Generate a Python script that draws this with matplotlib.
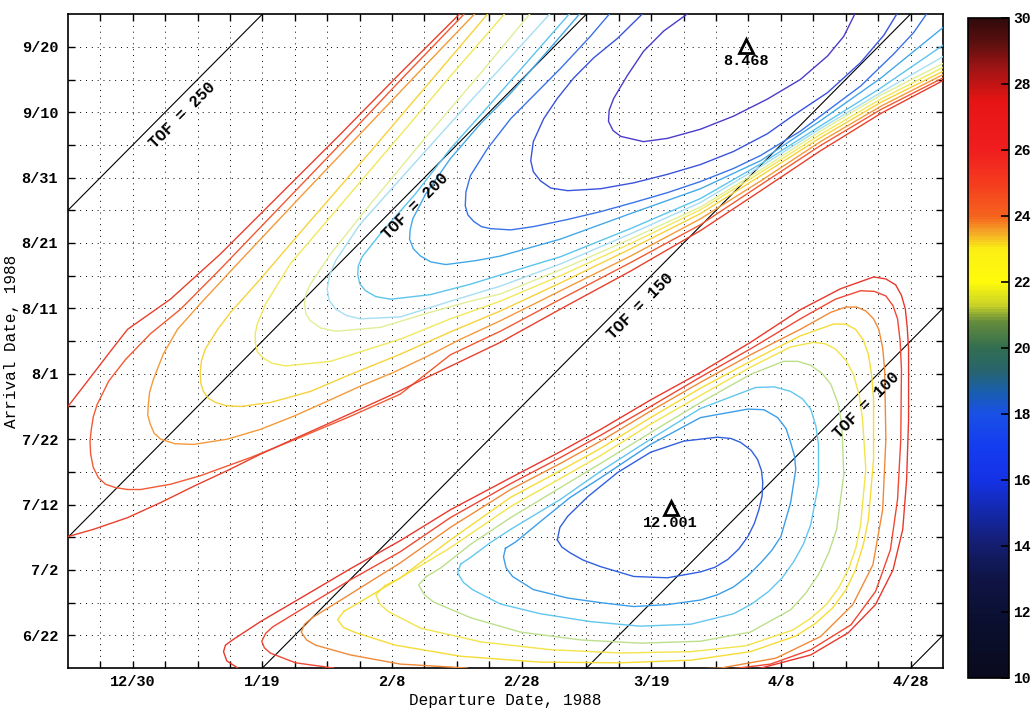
import numpy as np
import matplotlib.pyplot as plt
from matplotlib.colors import LinearSegmentedColormap, Normalize
from matplotlib.cm import ScalarMappable

# axis origins: departure days after 12/20/1987, arrival days after 6/17/1988
dep0 = np.datetime64('1987-12-20')
arr0 = np.datetime64('1988-06-17')
dep_span = 135
arr_span = 100

dep_tick_dates = np.array(['1987-12-30', '1988-01-19', '1988-02-08', '1988-02-28',
                           '1988-03-19', '1988-04-08', '1988-04-28'], dtype='datetime64[D]')
dep_tick_labels = ['12/30', '1/19', '2/8', '2/28', '3/19', '4/8', '4/28']
arr_tick_dates = np.array(['1988-06-22', '1988-07-02', '1988-07-12', '1988-07-22', '1988-08-01',
                           '1988-08-11', '1988-08-21', '1988-08-31', '1988-09-10', '1988-09-20'],
                          dtype='datetime64[D]')
arr_tick_labels = ['6/22', '7/2', '7/12', '7/22', '8/1', '8/11', '8/21', '8/31', '9/10', '9/20']

tof_values = [50, 100, 150, 200, 250]
tof_labelled = [100, 150, 200, 250]
tof_label_dep = [121.7, 86.8, 52.1, 16.1]

min_dep = [104.6, 93.0]
min_arr = [95.1, 24.5]
min_text = ['8.468', '12.001']

# contour traces (departure day, arrival day) - upper (type II) lobe, inner to outer
u1 = [(95.8, 100.2), (91.9, 97.4), (88.8, 94.3), (86.3, 90.6), (84.2, 87.1), (83.5, 85.3),
      (83.4, 83.6), (84.1, 82.2), (85.3, 81.3), (88.8, 80.5), (92.5, 81.0), (97.6, 82.4),
      (102.7, 84.4), (107.9, 87.0), (113.0, 90.0), (117.2, 93.6), (119.7, 96.6), (121.5, 100.2)]
u2 = [(88.8, 100.2), (84.8, 96.3), (81.1, 93.3), (78.0, 90.2), (75.5, 87.1), (73.4, 84.0),
      (71.8, 80.5), (71.4, 77.6), (71.8, 75.9), (72.9, 74.5), (74.5, 73.4), (77.1, 73.0),
      (82.2, 73.3), (87.3, 74.2), (92.5, 75.5), (97.6, 77.0), (102.7, 79.0), (107.9, 81.7),
      (111.9, 84.5), (117.2, 88.0), (122.3, 92.6), (125.9, 96.8), (128.0, 100.2)]
u3 = [(83.7, 100.2), (80.6, 96.6), (76.0, 91.7), (71.4, 87.1), (68.3, 84.0), (64.7, 79.4),
      (62.1, 75.3), (61.4, 72.8), (61.3, 70.7), (61.7, 69.3), (62.6, 68.3), (63.8, 67.5),
      (65.2, 67.2), (68.3, 67.0), (71.8, 67.5), (77.1, 68.6), (82.2, 69.8), (87.3, 71.2),
      (92.5, 72.7), (97.6, 74.4), (102.7, 76.4), (106.9, 78.4), (113.0, 82.1), (117.7, 85.6),
      (122.3, 89.0), (127.4, 93.9), (130.5, 97.2), (132.6, 100.2)]
u4 = [(79.1, 100.2), (73.7, 94.0), (68.3, 87.9), (63.7, 83.3), (59.0, 77.9), (55.2, 72.5),
      (53.2, 68.7), (52.8, 67.0), (52.7, 65.6), (53.3, 64.1), (54.4, 63.0), (56.0, 62.1),
      (58.3, 61.7), (62.9, 62.3), (66.7, 63.0), (76.0, 65.6), (86.8, 69.5), (97.6, 73.3),
      (106.9, 77.6), (116.1, 83.7), (125.4, 90.2), (135.7, 98.5)]
u5 = [(77.5, 100.2), (71.4, 93.3), (65.2, 86.3), (59.0, 79.4), (53.6, 72.5), (48.2, 66.4),
      (45.4, 62.9), (44.8, 61.5), (44.7, 60.3), (45.0, 58.8), (45.9, 57.7), (47.5, 56.8),
      (49.8, 56.4), (55.9, 57.1), (62.1, 58.7), (66.7, 60.1), (76.0, 62.9), (86.8, 67.2),
      (97.6, 71.8), (106.9, 77.1), (116.1, 82.9), (125.4, 88.7), (135.7, 95.7)]
u6 = [(74.5, 100.2), (66.7, 91.7), (59.0, 83.3), (51.3, 74.8), (45.1, 67.9), (41.3, 62.3),
      (40.4, 60.2), (40.0, 58.0), (40.3, 56.2), (41.3, 54.9), (43.0, 53.9), (45.1, 53.4),
      (51.3, 53.7), (59.0, 56.1), (66.7, 58.4), (76.0, 61.8), (86.8, 66.4), (97.6, 71.2),
      (106.9, 76.7), (116.1, 82.5), (125.4, 88.0), (135.7, 93.9)]
u7 = [(71.4, 100.2), (63.7, 91.0), (54.4, 80.2), (46.7, 71.0), (40.5, 63.3), (37.4, 58.7),
      (36.7, 57.2), (36.5, 55.7), (36.7, 54.2), (37.4, 53.1), (39.0, 52.0), (41.3, 51.5),
      (48.2, 52.1), (55.9, 54.4), (62.1, 56.1), (66.7, 57.2), (76.0, 60.9), (86.8, 65.6),
      (97.6, 70.5), (106.9, 76.2), (116.1, 82.1), (125.4, 87.6), (135.7, 92.8)]
u8 = [(67.5, 100.2), (59.0, 90.5), (49.8, 79.8), (40.5, 69.0), (34.3, 61.8), (30.5, 55.7),
      (29.2, 52.6), (28.9, 51.2), (28.9, 49.8), (29.2, 48.4), (30.0, 47.5), (31.5, 46.6),
      (33.6, 46.2), (40.5, 46.9), (51.3, 50.3), (59.0, 53.4), (66.7, 56.1), (76.0, 60.0),
      (86.8, 64.9), (97.6, 70.1), (106.9, 75.8), (116.1, 81.6), (125.4, 87.0), (135.7, 92.2)]
u9 = [(64.9, 100.2), (55.9, 89.7), (46.7, 79.0), (37.4, 68.4), (29.7, 59.5), (25.1, 54.4),
      (23.1, 51.8), (21.2, 48.8), (20.6, 47.0), (20.4, 45.2), (20.5, 43.5), (20.9, 42.3),
      (21.6, 41.3), (22.8, 40.6), (24.5, 40.1), (26.6, 40.0), (31.2, 40.6), (37.4, 42.3),
      (43.6, 44.9), (51.3, 48.0), (59.0, 51.4), (66.7, 54.6), (76.0, 58.9), (86.8, 64.1),
      (97.6, 69.5), (106.9, 75.3), (116.1, 81.1), (125.4, 86.5), (135.7, 91.6)]
u10 = [(62.9, 100.2), (54.4, 91.4), (45.1, 81.7), (35.9, 72.1), (26.6, 62.3), (20.4, 55.7),
       (16.9, 51.8), (14.7, 48.0), (13.2, 44.2), (12.6, 42.2), (12.4, 40.3), (12.3, 38.7),
       (12.7, 37.3), (13.3, 35.9), (14.3, 35.0), (16.5, 34.3), (19.4, 34.2), (24.6, 35.0),
       (29.7, 36.5), (34.8, 38.5), (40.0, 40.8), (45.1, 43.1), (50.2, 45.2), (55.5, 47.7),
       (60.6, 50.3), (66.7, 53.1), (76.0, 57.7), (86.8, 63.0), (97.6, 68.7), (106.9, 74.5),
       (116.1, 80.5), (125.4, 85.9), (135.7, 91.1)]
u11 = [(61.3, 100.2), (51.3, 89.9), (42.1, 80.2), (32.8, 70.6), (23.5, 61.0), (17.4, 54.9),
       (12.7, 51.1), (8.9, 47.2), (6.3, 43.9), (4.5, 40.3), (3.9, 38.4), (3.6, 36.5),
       (3.4, 34.6), (3.5, 32.7), (3.9, 30.7), (4.7, 29.1), (5.8, 28.1), (7.3, 27.6),
       (9.2, 27.3), (11.2, 27.3), (15.8, 28.1), (20.4, 29.4), (28.2, 32.2), (35.9, 35.3),
       (43.6, 38.5), (51.3, 41.9), (59.0, 47.9), (66.7, 51.5), (76.0, 56.4), (86.8, 62.0),
       (97.6, 67.8), (106.9, 73.9), (116.1, 79.9), (125.4, 85.4), (135.7, 90.6)]
u12 = [(60.6, 100.2), (51.3, 91.0), (42.1, 81.7), (32.8, 72.5), (23.5, 63.3), (15.8, 56.4),
       (9.2, 51.8), (6.6, 48.5), (3.5, 44.5), (0.0, 40.0), (-4.2, 30.4), (0.0, 20.1),
       (3.9, 21.2), (9.2, 23.0), (14.3, 25.3), (19.4, 27.8), (24.6, 30.2), (29.7, 32.7),
       (34.8, 35.0), (40.0, 37.3), (45.1, 39.6), (50.2, 41.9), (55.5, 44.5), (60.6, 46.9),
       (66.7, 49.8), (76.0, 54.9), (86.8, 60.7), (97.6, 66.9), (106.9, 73.0), (116.1, 79.1),
       (125.4, 84.8), (135.7, 90.2)]

# lower (type I) lobe, inner to outer
l1 = [(75.5, 19.6), (75.9, 21.5), (77.1, 23.2), (80.2, 26.2), (84.8, 29.9), (89.9, 33.0),
      (95.0, 34.7), (100.2, 35.3), (102.3, 35.1), (103.8, 34.5), (105.4, 33.3), (106.4, 31.9),
      (107.0, 30.2), (107.2, 28.4), (107.1, 26.3), (106.6, 24.2), (105.9, 22.1), (104.9, 20.1),
      (103.5, 18.2), (101.8, 16.6), (99.8, 15.4), (97.6, 14.7), (92.5, 13.8), (87.3, 14.0),
      (82.2, 15.5), (79.5, 16.5), (77.5, 17.6), (76.2, 18.5), (75.5, 19.6)]
l2 = [(67.5, 18.3), (69.1, 19.3), (72.9, 22.4), (77.5, 26.1), (82.2, 29.1), (89.9, 34.2),
      (97.6, 38.3), (104.9, 39.6), (107.4, 39.5), (109.5, 38.3), (110.8, 36.6), (111.5, 34.5),
      (112.1, 32.4), (112.3, 30.4), (111.5, 25.3), (110.0, 20.1), (108.6, 18.0), (106.9, 16.1),
      (104.9, 14.1), (102.7, 12.4), (100.2, 11.2), (97.6, 10.4), (92.5, 9.7), (87.3, 9.4),
      (82.2, 10.0), (77.1, 10.7), (71.8, 12.0), (68.6, 14.0), (67.6, 15.3), (67.2, 17.0),
      (67.5, 18.3)]
l3 = [(60.6, 15.9), (62.1, 16.9), (65.2, 19.2), (68.3, 21.2), (76.0, 25.8), (82.2, 30.1),
      (89.9, 35.0), (97.6, 39.7), (106.1, 42.9), (109.0, 43.0), (111.5, 42.3), (113.3, 41.2),
      (114.6, 39.6), (115.4, 37.0), (115.8, 34.2), (115.8, 28.1), (114.6, 21.9), (113.5, 19.0),
      (112.0, 16.3), (110.2, 13.8), (108.1, 11.7), (105.5, 9.8), (102.7, 8.3), (96.1, 6.7),
      (88.3, 6.4), (80.6, 7.1), (72.9, 8.3), (66.7, 9.8), (62.4, 12.0), (61.0, 13.1),
      (60.1, 14.6), (60.6, 15.9)]
l4 = [(55.3, 14.0), (57.5, 15.3), (62.1, 18.9), (68.3, 23.0), (76.0, 27.6), (82.2, 31.3),
      (89.9, 36.0), (97.6, 40.6), (105.3, 44.9), (110.4, 46.9), (112.6, 46.9), (114.6, 46.3),
      (116.4, 45.0), (117.7, 43.4), (118.8, 40.5), (119.4, 37.3), (119.7, 29.6), (118.6, 21.2),
      (117.4, 17.7), (115.8, 14.3), (113.8, 11.4), (111.5, 8.9), (105.3, 5.5), (97.6, 4.1),
      (88.3, 3.8), (79.1, 4.3), (69.8, 5.5), (62.1, 7.7), (56.4, 10.1), (55.0, 11.2),
      (54.1, 12.7), (55.3, 14.0)]
l5 = [(48.9, 12.6), (51.3, 13.8), (59.0, 18.4), (68.3, 24.7), (76.0, 29.0), (82.2, 32.5),
      (89.9, 37.3), (97.6, 41.7), (105.3, 46.0), (111.5, 49.1), (115.0, 49.8), (116.8, 49.6),
      (118.4, 48.8), (120.0, 47.1), (121.2, 44.9), (122.1, 41.6), (122.6, 38.0), (123.1, 30.4),
      (122.3, 21.9), (121.6, 18.5), (120.5, 15.3), (119.0, 12.4), (117.1, 9.8), (114.6, 7.6),
      (111.8, 5.8), (104.6, 3.4), (96.1, 2.5), (85.3, 2.3), (74.5, 2.8), (63.7, 4.0),
      (54.4, 6.1), (49.5, 8.6), (48.2, 9.7), (47.5, 11.2), (48.9, 12.6)]
l6 = [(42.6, 8.7), (44.4, 9.7), (51.3, 13.8), (59.0, 19.6), (68.3, 26.1), (76.0, 30.2),
      (82.2, 33.6), (89.9, 38.3), (97.6, 42.8), (105.3, 46.9), (113.0, 50.8), (118.1, 52.6),
      (120.0, 52.6), (121.5, 51.8), (122.7, 50.2), (123.5, 48.0), (124.0, 44.8), (124.3, 41.1),
      (124.3, 31.9), (123.5, 22.7), (122.7, 18.8), (121.5, 15.0), (120.0, 11.9), (118.0, 9.2),
      (115.3, 6.8), (112.3, 4.9), (105.3, 2.5), (96.1, 1.2), (85.3, 0.8), (72.9, 0.9),
      (60.6, 1.8), (50.5, 3.5), (44.4, 5.4), (42.5, 6.2), (41.6, 7.4), (42.6, 8.7)]
l7 = [(61.6, 0.0), (51.3, 0.6), (43.6, 2.0), (38.2, 3.5), (36.8, 4.3), (36.0, 5.5), (36.5, 6.7),
      (37.7, 7.7), (42.1, 10.4), (51.3, 16.1), (59.0, 21.5), (68.3, 27.3), (76.0, 31.3),
      (82.2, 34.7), (89.9, 39.3), (97.6, 43.7), (105.3, 47.9), (113.0, 51.8), (117.7, 54.4),
      (120.0, 55.2), (121.7, 55.2), (123.1, 54.6), (124.3, 53.4), (125.1, 51.8), (125.7, 49.0),
      (126.0, 45.7), (126.2, 35.0), (125.7, 24.2), (124.2, 15.8), (121.1, 9.7), (116.1, 4.8),
      (109.2, 1.5), (100.7, 0.0), (93.4, -0.3)]
l8 = [(41.0, 0.0), (35.1, 0.8), (31.2, 2.3), (30.3, 3.1), (29.9, 4.1), (30.5, 5.3), (31.6, 6.3),
      (35.9, 8.9), (43.6, 13.5), (51.3, 17.8), (59.0, 23.0), (68.3, 28.2), (76.0, 32.2),
      (82.2, 35.6), (89.9, 40.0), (97.6, 44.5), (105.3, 48.8), (113.0, 53.4), (118.4, 56.4),
      (122.3, 57.7), (124.4, 57.6), (126.2, 56.9), (127.3, 55.4), (128.0, 53.4), (128.4, 50.0),
      (128.6, 45.7), (128.5, 35.0), (128.0, 25.8), (126.9, 18.1), (124.6, 11.7), (120.8, 6.6),
      (114.6, 2.8), (108.4, 0.6), (101.0, -0.3)]
l9 = [(26.2, 0.0), (24.5, 1.1), (24.0, 2.5), (24.3, 3.5), (25.4, 4.3), (29.7, 7.1), (35.9, 10.7),
      (43.6, 15.2), (51.3, 19.5), (59.0, 24.2), (68.3, 29.1), (76.0, 33.1), (82.2, 36.5),
      (89.9, 41.0), (97.6, 45.2), (105.3, 49.8), (113.0, 54.8), (119.2, 58.0), (124.3, 59.8),
      (126.2, 59.5), (127.7, 58.6), (128.6, 57.0), (129.2, 54.9), (129.5, 52.0), (129.7, 48.8),
      (129.7, 38.0), (129.4, 28.8), (128.8, 21.2), (127.3, 15.0), (124.6, 9.7), (120.4, 5.4),
      (114.6, 2.0), (105.8, -0.3)]

upper_traces = [u1, u2, u3, u4, u5, u6, u7, u8, u9, u10, u11, u12]
upper_colors = ['#4a3cc8', '#3a52dc', '#3a72e8', '#44a8e8', '#5cc4ee', '#a6def2',
                '#e2ee96', '#f2e85a', '#f7d23a', '#f49a3a', '#f25a34', '#e8402c']
lower_traces = [l1, l2, l3, l4, l5, l6, l7, l8, l9]
lower_colors = ['#3060e0', '#3c9ee8', '#62c6ee', '#bcdf8c', '#f2e44a', '#f6dc34',
                '#f08a38', '#f04834', '#e8382c']

# colour bar scale (C3 value, colour)
cbar_stops = [(10, '#0a0a1e'), (11.5, '#0a0f2d'), (13, '#0f1446'), (14, '#141e6e'),
              (15, '#1428aa'), (16, '#1432e6'), (17, '#143cf0'), (18, '#1950e6'),
              (18.7, '#195faa'), (19.3, '#28646e'), (20, '#326e50'), (20.8, '#648c3c'),
              (21.3, '#c8d228'), (22, '#fffa0a'), (23, '#faf014'), (23.5, '#f5aa28'),
              (24, '#f5641e'), (25, '#f53c1e'), (26, '#f01e1e'), (27.5, '#e61414'),
              (28.5, '#a01414'), (29.3, '#5a0f0f'), (30, '#320a0a')]
cbar_ticks = [10, 12, 14, 16, 18, 20, 22, 24, 26, 28, 30]

mono = 'Liberation Mono'

fig = plt.figure(figsize=(10.33, 7.17), dpi=100)
ax = fig.add_axes([0.0658, 0.0683, 0.847, 0.912])

for trace, col in zip(upper_traces + lower_traces, upper_colors + lower_colors):
    pts = np.array(trace)
    ax.plot(pts[:, 0], pts[:, 1], color=col, lw=1.0, zorder=3, solid_joinstyle='round')

offset = int((arr0 - dep0).astype(int))
xs = np.array([-10, dep_span + 10])
for tof in tof_values:
    ax.plot(xs, xs + tof - offset, color='black', lw=0.8, zorder=2)
for tof, xm in zip(tof_labelled, tof_label_dep):
    ax.annotate(f'TOF = {tof}', (xm, xm + tof - offset), xytext=(7, -7),
                textcoords='offset points', rotation=45, rotation_mode='anchor',
                ha='center', va='center', family=mono, weight='bold', fontsize=11.5,
                zorder=4)

ax.plot(min_dep, min_arr, '^', ms=10, mfc='none', mec='black', mew=2, zorder=5)
for x, y, t in zip(min_dep, min_arr, min_text):
    ax.annotate(t, (x, y), xytext=(0, -6), textcoords='offset points', ha='center', va='top',
                family=mono, weight='bold', fontsize=11, zorder=5)

ax.set_xlim(0, dep_span)
ax.set_ylim(0, arr_span)
ax.set_xticks((dep_tick_dates - dep0).astype(int))
ax.set_xticklabels(dep_tick_labels)
ax.set_yticks((arr_tick_dates - arr0).astype(int))
ax.set_yticklabels(arr_tick_labels)
ax.set_xticks(np.arange(5, dep_span, 5), minor=True)
ax.set_yticks(np.arange(5, arr_span, 5), minor=True)
ax.tick_params(which='both', direction='in', length=5, top=True, right=True, width=1)
ax.tick_params(axis='x', which='major', pad=5)
ax.tick_params(axis='y', which='major', pad=7)
for lab in ax.get_xticklabels() + ax.get_yticklabels():
    lab.set_family(mono)
    lab.set_weight('bold')
    lab.set_fontsize(11)
ax.grid(which='both', color='black', lw=0.7, ls=(0, (1, 5)))
ax.set_axisbelow(True)
for s in ax.spines.values():
    s.set_linewidth(1.2)
ax.set_xlabel('Departure Date, 1988', family=mono, fontsize=11.5, labelpad=3)
ax.set_ylabel('Arrival Date, 1988', family=mono, fontsize=11.5, labelpad=2)

cmap = LinearSegmentedColormap.from_list(
    'c3', [((v - 10) / 20, c) for v, c in cbar_stops])
cax = fig.add_axes([0.937, 0.0544, 0.040, 0.9205])
cb = fig.colorbar(ScalarMappable(norm=Normalize(10, 30), cmap=cmap), cax=cax, ticks=cbar_ticks)
cb.ax.tick_params(direction='in', length=6, width=1.2, left=False, right=True, pad=3)
for lab in cb.ax.get_yticklabels():
    lab.set_family(mono)
    lab.set_weight('bold')
    lab.set_fontsize(10.5)
cb.outline.set_linewidth(1.2)

fig.savefig('out.png', dpi=100)
